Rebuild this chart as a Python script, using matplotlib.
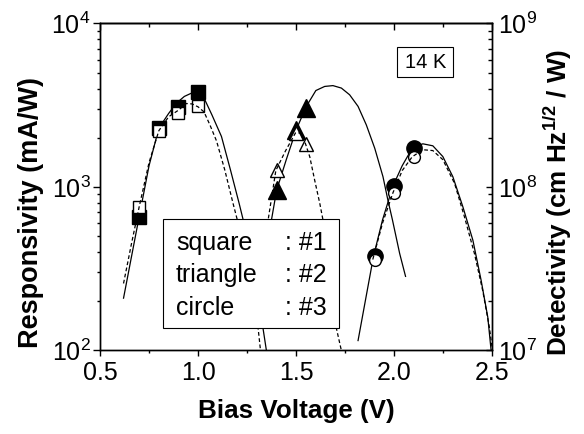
import matplotlib
matplotlib.use("Agg")
import matplotlib.pyplot as plt
from matplotlib.ticker import MultipleLocator, LogLocator, NullFormatter, FormatStrFormatter
from matplotlib.patches import Rectangle

plt.rcParams['font.family'] = ['Liberation Sans', 'DejaVu Sans']
plt.rcParams['mathtext.fontset'] = 'custom'
plt.rcParams['mathtext.rm'] = 'Liberation Sans'
plt.rcParams['mathtext.bf'] = 'Liberation Sans:bold'
plt.rcParams['mathtext.it'] = 'Liberation Sans:italic'

# ---- measured points ----
bias_square = [0.7, 0.8, 0.9, 1.0]
resp_square = [658, 2290, 3080, 3810]            # mA/W (filled)
det_square = [7.57e7, 2.21e8, 2.83e8, 3.14e8]   # cm Hz^1/2/W (open)

bias_triangle = [1.4, 1.5, 1.55]
resp_triangle = [959, 2240, 3040]
det_triangle = [1.27e8, 2.15e8, 1.84e8]

bias_circle = [1.9, 2.0, 2.1]
resp_circle = [378, 1014, 1726]
det_circle = [3.6e7, 9.2e7, 1.53e8]

# ---- fitted curves ----
fit_sq_resp_x = [0.62, 0.66, 0.70, 0.75, 0.80, 0.85, 0.89, 0.93, 0.96, 0.99, 1.01,
                 1.034, 1.07, 1.119, 1.165, 1.209, 1.229, 1.29, 1.331, 1.348]
fit_sq_resp_y = [209, 372, 661, 1349, 2291, 2818, 3260, 3580, 3720, 3846, 3800,
                 3420, 2767, 2037, 1270, 794, 634, 251, 136, 100]

fit_sq_det_x = [0.62, 0.66, 0.70, 0.75, 0.80, 0.85, 0.90, 0.94, 0.97, 1.00,
                1.03, 1.06, 1.094, 1.136, 1.178, 1.199, 1.26, 1.306, 1.318]
fit_sq_det_y = [2.57e7, 4.47e7, 7.59e7, 1.41e8, 2.21e8, 2.69e8, 2.95e8, 3.24e8, 3.22e8, 3.09e8,
                2.88e8, 2.40e8, 1.91e8, 1.27e8, 7.94e7, 6.34e7, 2.82e7, 1.36e7, 1.0e7]

fit_tri_resp_x = [1.34, 1.374, 1.40, 1.45, 1.50, 1.55, 1.60, 1.645, 1.687, 1.73, 1.772,
                  1.815, 1.857, 1.90, 1.942, 1.967, 1.99, 2.027, 2.057]
fit_tri_resp_y = [417, 631, 955, 1479, 2239, 3090, 3890, 4121, 4169, 4027, 3664,
                  3112, 2399, 1726, 1156, 832, 631, 392, 284]

fit_tri_det_x = [1.33, 1.357, 1.396, 1.445, 1.496, 1.52, 1.547, 1.569, 1.594, 1.62,
                 1.636, 1.705, 1.73]
fit_tri_det_y = [4.17e7, 6.31e7, 1.26e8, 1.66e8, 2.14e8, 2.14e8, 1.84e8, 1.53e8, 1.10e8, 7.94e7,
                 6.31e7, 1.36e7, 1.0e7]

fit_ci_resp_x = [1.815, 1.85, 1.894, 1.94, 1.993, 2.04, 2.091, 2.145, 2.196, 2.247,
                 2.298, 2.349, 2.40, 2.442, 2.476, 2.493]
fit_ci_resp_y = [115, 195, 378, 631, 1014, 1349, 1726, 1837, 1786, 1535,
                 1156, 757, 473, 269, 160, 100]

fit_ci_det_x = [1.89, 1.94, 1.993, 2.04, 2.091, 2.145, 2.196, 2.247, 2.307, 2.357,
                2.408, 2.45, 2.484, 2.50]
fit_ci_det_y = [3.6e7, 6.03e7, 9.23e7, 1.26e8, 1.53e8, 1.69e8, 1.67e8, 1.47e8, 1.05e8, 6.58e7,
                3.92e7, 2.33e7, 1.39e7, 1.0e7]

xticks = [0.5, 1.0, 1.5, 2.0, 2.5]

fig = plt.figure(figsize=(5.84, 4.34), dpi=100)
ax1 = fig.add_axes([0.1712, 0.1924, 0.6721, 0.7535])
ax1.set_xlim(0.5, 2.5)
ax1.set_yscale('log')
ax1.set_ylim(1e2, 1e4)

ax2 = ax1.twinx()
ax2.set_yscale('log')
ax2.set_ylim(1e7, 1e9)

lw = 0.9
dash = (0, (3.0, 2.0))
# responsivity: solid + filled markers
for x, y in [(fit_sq_resp_x, fit_sq_resp_y), (fit_tri_resp_x, fit_tri_resp_y),
             (fit_ci_resp_x, fit_ci_resp_y)]:
    ax1.plot(x, y, color='black', lw=lw, zorder=2)
ax1.plot(bias_square, resp_square, ls='none', marker='s', ms=9.5, mfc='black', mec='black', zorder=3)
ax1.plot(bias_triangle, resp_triangle, ls='none', marker='^', ms=12.5, mfc='black', mec='black', zorder=3)
ax1.plot(bias_circle, resp_circle, ls='none', marker='o', ms=11, mfc='black', mec='black', zorder=3)

# detectivity: open markers + dashed
ax2.plot(bias_square, det_square, ls='none', marker='s', ms=8.5, mfc='white', mec='black', mew=1.0, zorder=3)
ax2.plot(bias_triangle, det_triangle, ls='none', marker='^', ms=10.5, mfc='white', mec='black', mew=1.0, zorder=3)
ax2.plot(bias_circle, det_circle, ls='none', marker='o', ms=8.5, mfc='white', mec='black', mew=1.0, zorder=3)
for x, y in [(fit_sq_det_x, fit_sq_det_y), (fit_tri_det_x, fit_tri_det_y),
             (fit_ci_det_x, fit_ci_det_y)]:
    ax2.plot(x, y, color='black', lw=lw, ls=dash, zorder=4)

# ticks
ax1.set_xticks(xticks)
ax1.xaxis.set_minor_locator(MultipleLocator(0.25))
ax1.xaxis.set_major_formatter(FormatStrFormatter('%.1f'))
ax1.tick_params(axis='x', which='both', direction='out', top=False, labelsize=18, pad=3)
ax1.tick_params(axis='x', which='major', length=4.5, width=1.0)
ax1.tick_params(axis='x', which='minor', length=2.3, width=1.0)
ax1.yaxis.set_minor_locator(LogLocator(base=10, subs=range(2, 10)))
ax1.yaxis.set_minor_formatter(NullFormatter())
ax1.tick_params(axis='y', which='both', direction='out', right=False, labelsize=18, pad=2)
ax1.tick_params(axis='y', which='major', length=4.8, width=1.0)
ax1.tick_params(axis='y', which='minor', length=2.4, width=1.0)

ax2.yaxis.set_minor_locator(LogLocator(base=10, subs=range(2, 10)))
ax2.yaxis.set_minor_formatter(NullFormatter())
ax2.tick_params(axis='y', which='both', direction='in', left=False, labelsize=18, pad=4)
ax2.tick_params(axis='y', which='major', length=4.2, width=1.0)
ax2.tick_params(axis='y', which='minor', length=2.9, width=1.0)

sec = ax1.secondary_xaxis('top')
sec.set_xticks(xticks)
sec.xaxis.set_minor_locator(MultipleLocator(0.25))
sec.tick_params(axis='x', which='both', direction='in', labeltop=False)
sec.tick_params(axis='x', which='major', length=5.0, width=1.0)
sec.tick_params(axis='x', which='minor', length=2.9, width=1.0)

for a in (ax1, ax2):
    for s in a.spines.values():
        s.set_linewidth(1.0)
sec.spines['top'].set_linewidth(1.0)

ax1.set_xlabel('Bias Voltage (V)', fontsize=18.7, fontweight='bold', labelpad=10)
ax1.set_ylabel('Responsivity (mA/W)', fontsize=19.5, fontweight='bold')
ax1.yaxis.set_label_coords(-0.1427, 0.4235)
ax2.set_ylabel(r'Detectivity (cm Hz$^{\mathbf{1/2}}$ / W)', fontsize=18.8, fontweight='bold')
ax2.yaxis.set_label_coords(1.127, 0.4526)

# legend-like box
ax2.add_patch(Rectangle((0.161, 0.0676), 0.449, 0.3334, transform=ax2.transAxes,
                        facecolor='white', edgecolor='black', lw=0.8, zorder=10))
names = ['square', 'triangle', 'circle']
tags = [': #1', ': #2', ': #3']
ys = [0.307, 0.2086, 0.1086]
for n, t, yy in zip(names, tags, ys):
    ax2.text(0.1936, yy, n, transform=ax2.transAxes, fontsize=18, va='baseline', ha='left', zorder=11)
    ax2.text(0.471, yy, t, transform=ax2.transAxes, fontsize=18, va='baseline', ha='left', zorder=11)

ax2.add_patch(Rectangle((0.7575, 0.8355), 0.1425, 0.0935, transform=ax2.transAxes,
                        facecolor='white', edgecolor='black', lw=0.8, zorder=10))
ax2.text(0.8288, 0.882, '14 K', transform=ax2.transAxes, fontsize=14.5, va='center', ha='center', zorder=11)

fig.savefig('out.png', dpi=100)
